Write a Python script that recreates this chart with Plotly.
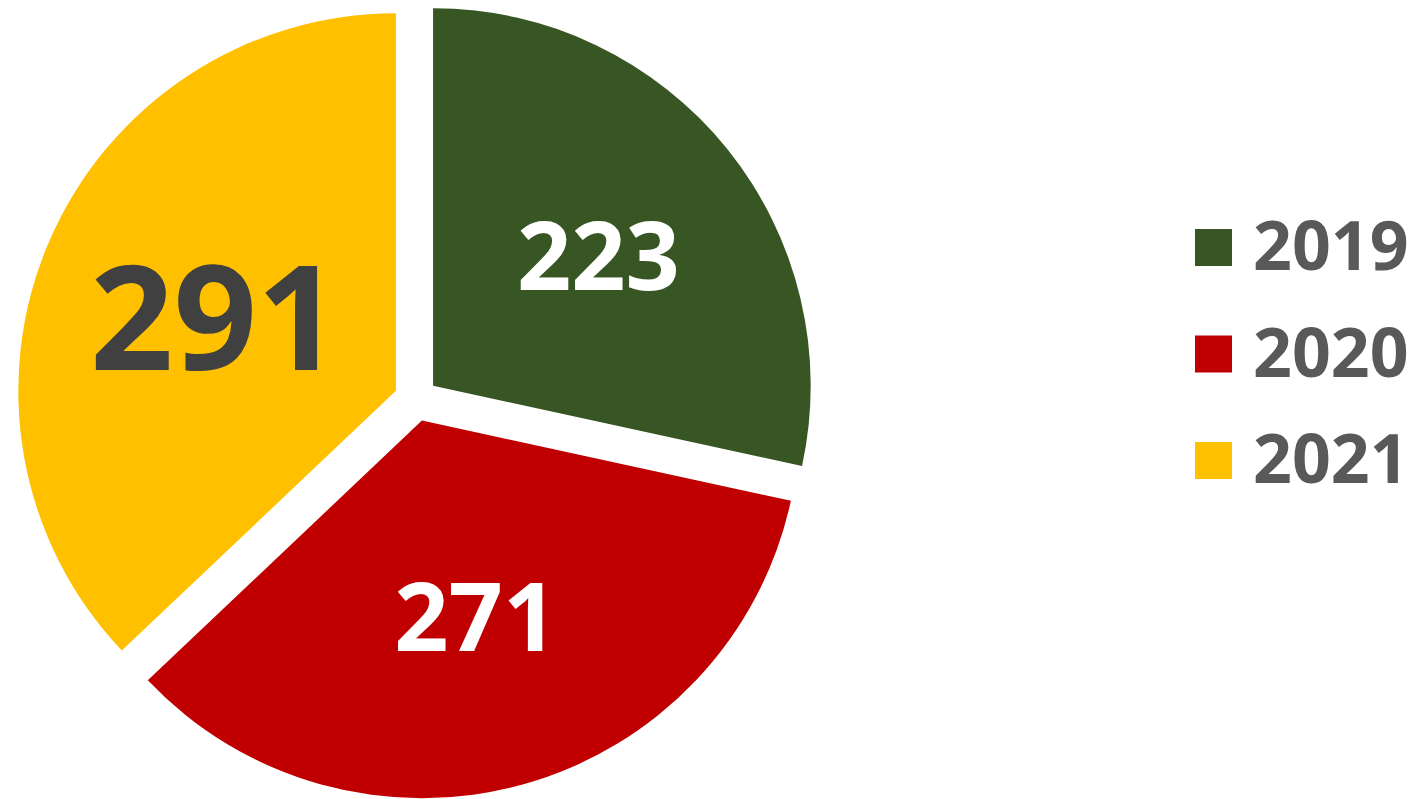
import plotly.graph_objects as go

categories = ["2019", "2020", "2021"]
values = [223, 271, 291]
colors = ["#375623", "#C00000", "#FFC000"]
label_colors = ["#FFFFFF", "#FFFFFF", "#404040"]
label_sizes = [95, 95, 146]

fig = go.Figure()
fig.add_trace(go.Pie(
    labels=categories,
    values=values,
    sort=False,
    direction="clockwise",
    rotation=0,
    pull=[0.058] * len(values),
    marker=dict(colors=colors, line=dict(width=0)),
    textinfo="value",
    textposition="inside",
    insidetextorientation="horizontal",
    textfont=dict(family="Open Sans", size=label_sizes, color=label_colors, weight="bold"),
    domain=dict(x=[0.0036, 0.5836], y=[0, 1]),
    showlegend=False,
    hoverinfo="label+value",
))

# custom legend (large square swatches)
shapes = []
annotations = []
y0 = 1 - 247.5 / 799
step = 106.5 / 799
for i, (cat, col) in enumerate(zip(categories, colors)):
    yc = y0 - i * step
    shapes.append(dict(type="rect", xref="paper", yref="paper",
                       x0=1195 / 1417, x1=1232 / 1417,
                       y0=yc - 18.5 / 799, y1=yc + 18.5 / 799,
                       fillcolor=col, line=dict(width=0)))
    annotations.append(dict(text=cat, xref="paper", yref="paper",
                            x=1251 / 1417, y=yc + 4 / 799, xanchor="left", yanchor="middle",
                            showarrow=False,
                            font=dict(family="Open Sans", size=68, color="#595959", weight="bold")))

fig.update_layout(
    width=1417, height=799,
    margin=dict(l=0, r=0, t=0, b=0),
    paper_bgcolor="white",
    plot_bgcolor="white",
    shapes=shapes,
    annotations=annotations,
)

fig.write_html("out.html",
               config={"displayModeBar": False},
               post_script="document.body.style.margin='0';document.body.style.overflow='hidden';")
